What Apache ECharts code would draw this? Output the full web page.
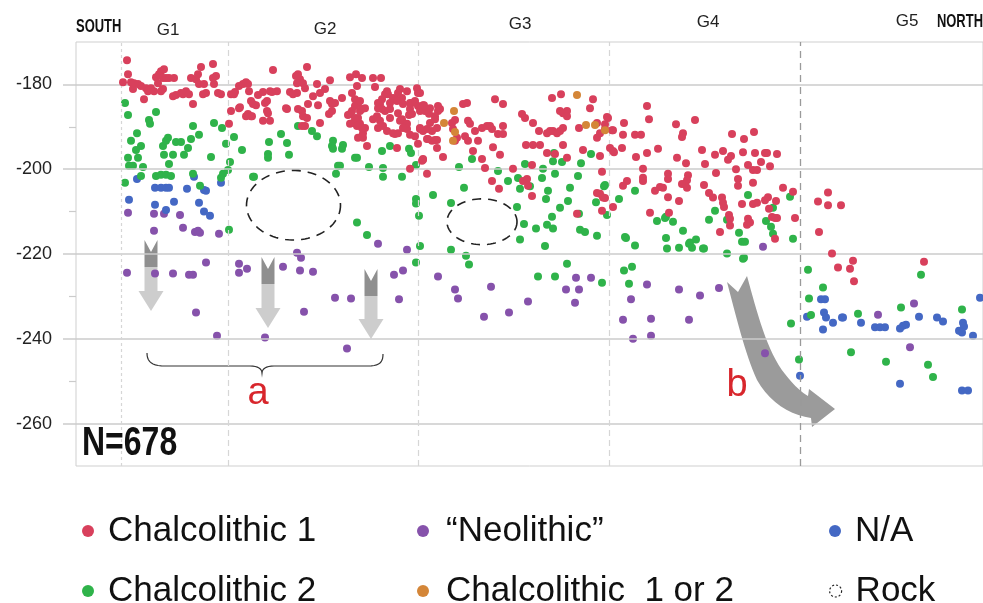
<!DOCTYPE html>
<html><head><meta charset="utf-8">
<script src="https://cdn.jsdelivr.net/npm/echarts@6/dist/echarts.min.js"></script>
<style>html,body{margin:0;padding:0;background:#fff}#c{width:983px;height:603px}</style>
</head><body><div id="c"></div>
<script>
// ---- data ----
const groupNames = ['G1','G2','G3','G4','G5'];
const groupCenters = [168,325,520,708,907];
const boundaries = [121,228,418,609,800];
const majorTicks = [-180,-200,-220,-240,-260];
const minorTicks = [-190,-210,-230,-250];

const chalco1 = [
[127,-174.3],[128,-177.6],[123,-179.5],[131,-179.5],[134,-179.7],[138,-179.9],[133,-181.1],[141,-180.4],[146,-180.9],[144,-183.5],[148,-181.6],[151,-180.9],[154,-181.6],[158,-179.7],[156,-178.3],[159,-177.6],[161,-176.9],[164,-176.4],[163,-178.5],[166,-178.5],[169,-178.5],[174,-178.5],[161,-181.6],[163,-181.1],[173,-182.8],[176,-182.5],[181,-182.0],[183,-182.3],[186,-181.6],[189,-182.3],[193,-184.6],[191,-178.5],[196,-178.8],[198,-177.6],[201,-175.9],[199,-179.9],[204,-179.9],[206,-182.0],[203,-182.3],[213,-175.2],[213,-178.5],[216,-178.0],[214,-179.9],[218,-182.0],[221,-182.3],[231,-182.3],[234,-182.3],[229,-189.3],[231,-186.3],[239,-185.6],[239,-180.4],[243,-179.9],[246,-179.5],[248,-179.9],[249,-181.6],[251,-183.9],[248,-187.0],[251,-187.5],[256,-184.9],
[273,-176.6],[307,-175.9],[298,-177.6],[300,-178.8],[303,-179.7],[297,-179.7],[305,-180.9],[317,-179.9],[330,-179.0],[325,-181.1],[320,-182.0],[313,-182.8],[308,-184.6],[302,-186.3],[298,-185.8],[303,-187.5],[307,-187.9],[302,-189.8],[305,-189.8],[318,-184.9],[320,-189.1],[330,-183.9],[332,-184.6],[329,-187.0],[342,-183.2],[350,-178.3],[356,-177.6],[362,-178.5],[357,-180.4],[373,-178.5],[381,-178.5],[375,-180.6],[355,-183.5],[358,-184.4],[365,-185.6],[352,-186.3],[348,-187.2],[360,-186.3],[358,-187.9],[353,-189.1],[360,-189.3],[365,-190.3],[363,-191.5],[363,-192.6],[367,-194.5],[378,-184.4],[382,-183.5],[385,-182.3],[387,-181.6],[382,-185.8],[385,-186.3],[390,-185.8],[390,-187.9],[395,-183.5],[400,-181.1],[402,-183.2],[403,-184.6],[398,-186.8],[402,-188.2],[405,-189.8],[407,-190.5],[409,-187.2],[412,-184.4],[417,-180.9],[418,-182.0],[423,-184.9],[420,-190.5],[423,-191.0],[415,-192.2],[395,-191.7],[397,-195.0],[422,-198.0],[427,-201.1],[410,-199.9],[253,-184.6],[265,-184.4],[268,-186.8],[270,-181.6],[277,-181.6],[263,-188.6],[270,-188.6],[287,-185.8],[290,-181.8],[297,-182.0],[252,-187.5],
[258,-182.5],[263,-181.8],[267,-183.9],[267,-186.3],[272,-181.8],[286,-185.6],[293,-182.3],[296,-178.0],[235,-181.8],[240,-185.4],[246,-187.5],
[407,-181.6],[398,-182.0],[388,-182.3],[393,-183.2],[397,-183.9],[390,-184.4],[380,-184.6],[378,-185.6],[410,-184.4],[415,-183.9],[418,-185.1],[410,-185.8],[412,-187.0],[400,-188.6],[407,-189.3],[403,-190.3],[398,-191.5],[420,-186.3],[425,-186.3],[430,-185.6],[438,-186.3],[435,-187.5],[430,-189.1],[427,-190.5],[432,-191.0],[437,-190.3],[428,-192.9],[432,-193.3],[437,-193.1],[410,-191.9],[418,-194.0],[352,-182.0],[355,-185.1],[360,-183.9],[362,-185.8],[350,-187.0],[355,-187.9],[350,-189.3],[357,-189.8],[362,-190.3],[332,-186.3],[335,-184.4],[358,-192.6],[362,-192.2],[373,-188.2],[377,-187.5],[380,-188.6],[378,-190.3],[383,-189.8],[387,-191.0],[393,-191.5],[423,-197.6],
[420,-182.0],[424,-184.9],[429,-186.9],[420,-190.3],[427,-192.9],[435,-193.1],[435,-188.2],[438,-185.1],[440,-185.8],[443,-197.1],[423,-197.8],[437,-195.0],[452,-189.1],[455,-188.4],[453,-190.5],[457,-192.6],[455,-193.3],[465,-192.2],[468,-193.3],[463,-184.6],[467,-184.4],[468,-188.6],[470,-189.3],[475,-191.0],[478,-193.3],[473,-195.7],[482,-197.6],[485,-199.7],[482,-190.3],[487,-189.8],[490,-189.8],[492,-190.5],[493,-194.8],[495,-183.5],[503,-184.6],[498,-191.7],[503,-191.7],[503,-189.8],[500,-196.6],[492,-202.8],[499,-204.6],[513,-199.9],[522,-187.0],[525,-187.9],[533,-189.1],[526,-194.3],[533,-194.3],[540,-194.3],[539,-191.0],[547,-191.5],[550,-191.0],[553,-191.0],[557,-191.5],[560,-191.0],[563,-190.3],[547,-196.2],[552,-183.2],[561,-182.3],[560,-186.3],[563,-186.8],[567,-186.3],[567,-187.5],[563,-194.3],[555,-196.4],[567,-197.3],[532,-199.0],[523,-202.8],[527,-202.3],[528,-203.9],[532,-206.3],[579,-190.3],[593,-183.5],[590,-185.6],[597,-189.1],[608,-187.9],[597,-192.6],[600,-191.5],[605,-190.5],[612,-190.8],[583,-195.5],[600,-196.9],[610,-195.0],[613,-195.7],[602,-200.6],[597,-205.6],[600,-205.8],[605,-206.8],[602,-209.8],[613,-208.9],[577,-210.5],
[647,-185.1],[649,-188.2],[607,-187.7],[605,-189.4],[613,-190.8],[624,-189.1],[623,-191.9],[635,-191.9],[641,-191.9],[614,-196.0],[622,-195.0],[636,-197.1],[647,-196.2],[658,-195.2],[643,-199.9],[643,-202.0],[643,-202.8],[627,-202.8],[623,-203.9],[603,-206.7],[650,-210.3],[660,-204.2],[663,-204.4],[655,-205.1],[668,-206.6],[668,-201.1],[668,-202.3],[679,-207.5],[669,-210.3],[676,-189.4],[683,-191.5],[682,-192.4],[695,-188.4],[677,-197.3],[686,-198.6],[688,-201.4],[687,-202.6],[685,-203.5],[687,-204.4],[682,-203.5],[702,-195.5],[705,-198.8],[704,-203.7],[709,-205.6],[713,-206.7],[715,-196.6],[716,-200.9],[723,-195.7],[728,-197.8],[731,-196.9],[722,-206.7],[723,-207.9],[724,-208.9],[729,-210.8],[730,-211.7],[720,-214.8],[732,-191.7],[744,-192.9],[754,-191.2],[743,-196.0],[755,-196.2],[765,-196.2],[767,-196.2],[777,-196.4],[736,-200.0],[748,-199.0],[753,-200.2],[757,-200.2],[761,-198.3],[770,-199.3],[738,-202.3],[738,-203.9],[753,-203.2],[742,-208.2],[753,-208.2],[748,-211.7],[747,-213.1],[765,-207.3],[768,-206.6],[769,-209.3],[776,-207.5],[772,-211.3],[775,-211.5],[777,-211.5],[783,-204.4],[793,-205.3],[795,-211.5],[775,-216.4],[730,-213.3],[750,-212.6],[757,-207.9],
[818,-207.6],[828,-205.5],[828,-208.5],[841,-208.5],[819,-214.8],[832,-219.9],[853,-221.6],[838,-223.2],[850,-223.5],[854,-226.4],[924,-221.8]
];

const chalco2 = [
[125,-184.4],[128,-187.2],[156,-186.5],[149,-188.4],[150,-189.3],[137,-191.5],[131,-193.3],[141,-194.5],[136,-195.5],[128,-197.3],[138,-197.3],[129,-199.2],[133,-199.2],[143,-199.5],[125,-203.2],[141,-201.6],[156,-201.6],[161,-201.3],[166,-201.3],[171,-201.6],[169,-198.8],[164,-196.6],[173,-196.6],[163,-194.5],[166,-193.3],[168,-192.6],[176,-193.6],[181,-193.6],[184,-196.6],[188,-195.0],[191,-192.9],[193,-189.8],[199,-191.9],[211,-197.1],[214,-189.1],[222,-190.3],[234,-192.4],[226,-194.0],[242,-195.5],[230,-198.3],[228,-200.2],[223,-201.1],[221,-202.0],[253,-201.8],[193,-201.1],[200,-203.9],[229,-214.3],
[298,-189.8],[312,-191.0],[317,-192.2],[281,-191.7],[269,-193.6],[287,-193.8],[268,-196.4],[268,-197.3],[289,-196.6],[333,-193.3],[332,-194.5],[333,-195.2],[343,-194.3],[342,-195.2],[355,-197.3],[357,-197.3],[338,-199.2],[340,-199.2],[336,-201.1],[369,-199.5],[382,-195.7],[390,-194.5],[383,-199.7],[383,-201.8],[402,-201.8],[409,-195.2],[411,-196.2],[416,-199.0],[416,-207.0],[416,-208.1],[419,-211.0],[357,-212.6],[367,-215.5],[420,-218.1],[254,-201.8],[416,-222.0],
[472,-197.6],[459,-199.5],[464,-204.4],[433,-206.1],[451,-208.0],[498,-200.4],[508,-202.8],[518,-202.1],[520,-204.6],[530,-204.0],[525,-198.8],[543,-199.9],[542,-202.1],[548,-205.1],[546,-207.0],[555,-201.1],[554,-196.2],[553,-198.1],[562,-198.3],[581,-198.6],[578,-201.6],[570,-204.4],[568,-207.5],[560,-209.1],[552,-211.2],[547,-213.1],[553,-214.0],[517,-208.9],[524,-212.9],[536,-214.0],[520,-216.6],[545,-218.1],[580,-214.3],[585,-214.8],[597,-215.7],[596,-207.8],[604,-204.0],[607,-210.8],[579,-210.5],[591,-196.4],[451,-219.0],
[466,-220.4],[469,-222.5],[538,-225.3],[555,-225.3],[567,-222.3],[602,-226.8],[624,-223.9],[632,-223.0],[629,-227.0],[626,-216.2],[635,-218.0],[657,-212.2],[666,-216.2],[667,-218.7],[666,-211.2],[673,-212.4],[683,-214.5],[679,-218.5],[690,-217.3],[692,-218.5],[696,-216.6],[703,-218.7],[709,-211.9],[715,-209.8],[727,-211.9],[727,-219.9],[739,-215.0],[742,-217.1],[745,-217.1],[743,-221.1],[766,-212.2],[771,-213.6],[773,-215.2],[773,-209.1],[793,-216.4],[791,-236.4],
[605,-203.7],[619,-207.0],[635,-205.1],[625,-216.0],[665,-211.5],[689,-217.6],[748,-206.1],[744,-220.9],[790,-206.5],[704,-218.7],
[808,-223.7],[823,-227.9],[809,-230.5],[811,-234.4],[858,-234.1],[901,-232.6],[921,-224.9],[962,-233.1],[799,-244.9],[851,-243.2],[886,-245.4],[928,-246.1],[933,-249.0]
];

const naPoints = [
[137,-202.3],[155,-204.4],[161,-204.4],[166,-204.4],[169,-204.4],[187,-204.6],[194,-201.8],[204,-204.9],[206,-205.1],[221,-203.2],[129,-207.2],[155,-208.4],[166,-209.6],[174,-207.7],[199,-207.9],[204,-210.0],[210,-211.0],
[821,-230.7],[825,-230.7],[824,-233.8],[826,-235.0],[807,-234.8],[833,-236.2],[842,-235.0],[843,-235.0],[861,-236.2],[823,-237.8],[875,-237.3],[880,-237.3],[885,-237.3],[900,-237.6],[903,-236.9],[906,-236.7],[919,-234.8],[937,-235.0],[943,-235.9],[963,-236.2],[964,-237.1],[959,-238.1],[962,-238.5],[973,-239.3],[980,-230.3],[800,-248.7],[900,-250.6],[962,-252.2],[968,-252.2]
];

const neolithic = [
[128,-210.3],[154,-210.5],[164,-210.5],[180,-210.8],[154,-214.5],[183,-213.8],[195,-214.8],[198,-214.5],[200,-215.0],[219,-215.2],
[127,-224.4],[155,-224.6],[173,-224.6],[189,-224.9],[193,-224.9],[206,-222.0],[196,-233.8],[217,-239.3],[239,-222.3],[239,-224.4],[247,-223.5],[265,-239.7],[283,-223.0],[297,-219.7],[301,-220.9],[300,-223.9],[313,-224.2],[304,-233.6],[335,-230.3],[351,-230.5],[347,-242.3],[378,-217.6],[407,-219.0],[394,-224.9],[403,-223.9],[399,-230.7],[438,-225.3],
[455,-228.4],[458,-230.5],[491,-227.7],[484,-234.8],[509,-233.8],[528,-231.2],[576,-225.6],[591,-225.6],[566,-228.4],[579,-228.4],[575,-231.5],[647,-227.2],[631,-230.7],[623,-235.5],[651,-235.3],[633,-240.0],[651,-239.3],[679,-228.4],[689,-235.5],[700,-229.8],[719,-228.0],[763,-218.3],[765,-243.4],
[878,-234.3],[914,-231.7],[910,-242.0]
];

const chalco12 = [
[454,-186.3],[444,-189.1],[455,-191.2],[453,-193.3],[577,-182.5],[586,-189.6],[595,-189.6],[605,-190.8]
];

// rocks: [centerX, centerDepth, halfWidth, halfDepth]
const rocks = [[293.5,-208.5,47,8.2],[482,-212.4,35,5.4]];

// ---- chart ----
const chart = echarts.init(document.getElementById('c'), null, {renderer:'canvas'});
const FONT = 'Liberation Sans, Arial, sans-serif';
const colors = {c1:'#d8405c', c2:'#2fb34a', na:'#4468c4', neo:'#8652ab', c12:'#d48638'};

function scat(name, data, color, z){
  return {type:'scatter', name, data, symbol:'circle', symbolSize:8, z,
    itemStyle:{color, opacity:1}, emphasis:{disabled:true}, silent:true, animation:false};
}

const lineMarks = [].concat(
  majorTicks.map(v => ({yAxis:v, lineStyle:{color:'#cbcbcb', width:1.5, type:'solid'}})),
  boundaries.map((v,i) => ({xAxis:v, lineStyle: i===4 ? {color:'#9a9a9a', width:1.3, type:[7,5]} : {color:'#d6d6d6', width:1.2, type:(i===0?[3,3]:[6,4])}}))
);

// legend layout: one legend component per item
const legendItems = [
  {name:'Chalcolithic 1', col:0, row:0},
  {name:'\u201CNeolithic\u201D', col:1, row:0},
  {name:'N/A', col:2, row:0},
  {name:'Chalcolithic 2', col:0, row:1},
  {name:'Chalcolithic  1 or 2', col:1, row:1},
  {name:'Rock', col:2, row:1, rock:true}
];
const colLeft = [77, 412, 824];
const colPad = [9, 12, 9];
const rowTop = [506, 566];
const legends = legendItems.map(it => ({
  left: colLeft[it.col], top: rowTop[it.row], orient:'horizontal', itemWidth:12, itemHeight:12, icon:'circle', selectedMode:false,
  textStyle:{fontSize:35, fontFamily:FONT, color:'#111', lineHeight:40, padding:[0,0,0,colPad[it.col]]},
  data:[ it.rock ? {name:it.name, icon:'circle', itemStyle:{color:'rgba(0,0,0,0)', borderColor:'#222', borderWidth:1.2, borderType:[2,2]}} : it.name ]
}));

chart.setOption({
  animation:false,
  grid:{left:76, right:0, top:42, bottom:137, show:true, borderColor:'#cfcfcf', borderWidth:1},
  xAxis:{type:'value', min:76, max:983, show:false},
  yAxis:[
    {type:'value', min:-270, max:-170, position:'left',
     axisLine:{show:false},
     axisTick:{show:true, customValues:majorTicks, length:13, lineStyle:{color:'#cbcbcb', width:1.5}},
     axisLabel:{customValues:majorTicks, margin:24, fontSize:18, color:'#222', fontFamily:FONT},
     splitLine:{show:false}},
    {type:'value', min:-270, max:-170, position:'left',
     axisLine:{show:false},
     axisTick:{show:true, customValues:minorTicks, length:7, lineStyle:{color:'#cbcbcb', width:1.2}},
     axisLabel:{show:false}, splitLine:{show:false}}
  ],
  legend: legends,
  series:[
    {type:'scatter', name:'_grid', data:[], z:1, silent:true,
     markLine:{silent:true, symbol:['none','none'], label:{show:false}, animation:false, emphasis:{disabled:true}, data:lineMarks}},
    scat('\u201CNeolithic\u201D', neolithic, colors.neo, 3),
    scat('N/A', naPoints, colors.na, 3),
    scat('Chalcolithic 2', chalco2, colors.c2, 4),
    scat('Chalcolithic 1', chalco1, colors.c1, 5),
    scat('Chalcolithic  1 or 2', chalco12, colors.c12, 6),
    {type:'custom', name:'Rock', data:rocks, z:6, silent:true,
     itemStyle:{color:'rgba(0,0,0,0)', borderColor:'#333'},
     renderItem:function(params, api){
       const c = api.coord([api.value(0), api.value(1)]);
       const s = api.size([api.value(2), api.value(3)]);
       const pts = [];
       for (let i=0;i<=90;i++){ const t=i/90*Math.PI*2; pts.push([c[0]+s[0]*Math.cos(t), c[1]+s[1]*Math.sin(t)]); }
       return {type:'polyline', shape:{points:pts}, style:{stroke:'#222', lineWidth:1.6, lineDash:[9,7], fill:null}};
     }}
  ]
});

// ---- annotations ----
function cubic(p0,p1,p2,p3,n){
  const out=[];
  for(let i=1;i<=n;i++){const t=i/n,u=1-t;
    out.push([u*u*u*p0[0]+3*u*u*t*p1[0]+3*u*t*t*p2[0]+t*t*t*p3[0], u*u*u*p0[1]+3*u*u*t*p1[1]+3*u*t*t*p2[1]+t*t*t*p3[1]]);}
  return out;
}
const headerY = [30,29,24,22,21];
const g = [];
groupNames.forEach((n,i) => {
  const p = chart.convertToPixel({xAxisIndex:0}, groupCenters[i]);
  g.push({type:'text', x:p, y:headerY[i], z:10, style:{text:n, fontSize:17, fontFamily:FONT, fill:'#222', align:'center', verticalAlign:'middle'}});
});
g.push({type:'text', x:76, y:27, scaleX:0.72, z:10, style:{text:'SOUTH', fontSize:18, fontWeight:'bold', fontFamily:FONT, fill:'#111', align:'left', verticalAlign:'middle'}});
g.push({type:'text', x:983, y:22, scaleX:0.72, z:10, style:{text:'NORTH', fontSize:18, fontWeight:'bold', fontFamily:FONT, fill:'#111', align:'right', verticalAlign:'middle'}});
g.push({type:'text', x:82, y:444, scaleX:0.8, z:10, style:{text:'N=678', fontSize:40, fontWeight:'bold', fontFamily:FONT, fill:'#111', align:'left', verticalAlign:'middle'}});
g.push({type:'text', x:258, y:394, z:10, style:{text:'a', fontSize:38, fontFamily:FONT, fill:'#d8262c', align:'center', verticalAlign:'middle'}});
g.push({type:'text', x:737, y:386, z:10, style:{text:'b', fontSize:38, fontFamily:FONT, fill:'#d8262c', align:'center', verticalAlign:'middle'}});

// vertical arrows of "a"
[[151,240,311],[268,257,328],[371,269,339]].forEach(a => {
  const cx=a[0], y0=a[1], y1=a[2];
  g.push({type:'polygon', z:1, shape:{points:[[cx-6.5,y0],[cx,y0+12],[cx+6.5,y0],[cx+6.5,y0+27],[cx-6.5,y0+27]]}, style:{fill:'#8f8f8f'}});
  g.push({type:'polygon', z:1, shape:{points:[[cx-6.5,y0+27],[cx+6.5,y0+27],[cx+6.5,y1-20],[cx+12.5,y1-20],[cx,y1],[cx-12.5,y1-20],[cx-6.5,y1-20]]}, style:{fill:'#cdcdcd'}});
});
// brace
let brace = [[147,353]];
brace = brace.concat(cubic([147,353],[147,362],[152,366],[165,366],10));
brace.push([250,366]);
brace = brace.concat(cubic([250,366],[258,366],[262,369],[262,373],8));
brace = brace.concat(cubic([262,373],[262,369],[266,366],[274,366],8));
brace.push([368,366]);
brace = brace.concat(cubic([368,366],[380,366],[383,362],[383,354],10));
g.push({type:'polyline', z:1, shape:{points:brace}, style:{stroke:'#333', lineWidth:1.2, fill:null}});
// big curved arrow "b"
let arr = [[727,282],[738,292],[747,276]];
arr = arr.concat(cubic([747,276],[757,312],[767,352],[785,374],16));
arr = arr.concat(cubic([785,374],[795,387],[803,393],[808,396],8));
arr.push([809,389],[835,409],[812,427],[811,418]);
arr = arr.concat(cubic([811,418],[790,415],[769,402],[757,380],10));
arr = arr.concat(cubic([757,380],[745,354],[736,316],[727,282],16));
g.push({type:'polygon', z:1, shape:{points:arr}, style:{fill:'#9b9b9b'}});

chart.setOption({graphic:g});
</script>
</body></html>
